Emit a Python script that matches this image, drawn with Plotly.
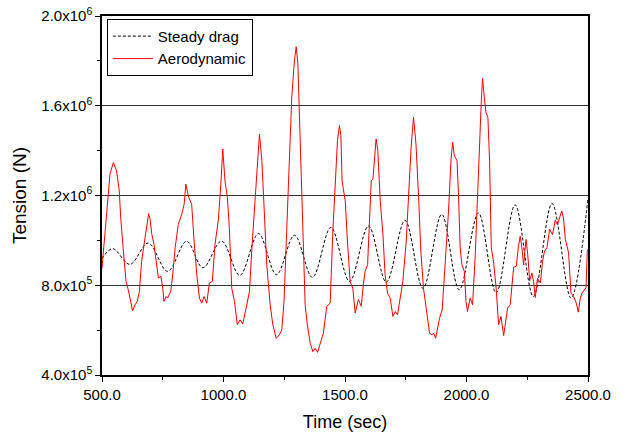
import plotly.graph_objects as go

# Steady drag (dashed) - read extrema
steady_t = [500, 544, 615, 690, 770, 848, 915, 992, 1067, 1144, 1218, 1292, 1366, 1442,
            1519, 1597, 1670, 1747, 1821, 1898, 1970, 2049, 2122, 2200, 2275, 2352, 2430, 2500]
steady_v = [9.2e5, 9.63e5, 8.93e5, 9.88e5, 8.62e5, 9.96e5, 8.78e5, 9.97e5, 8.44e5, 1.030e6,
            8.47e5, 1.023e6, 8.35e5, 1.058e6, 8.17e5, 1.064e6, 8.14e5, 1.089e6, 7.86e5, 1.116e6,
            7.80e5, 1.122e6, 7.66e5, 1.158e6, 7.50e5, 1.164e6, 7.43e5, 1.19e6]

# Aerodynamic (red)
aero_t = [500, 516, 533, 547, 560, 571, 577, 588, 599, 608, 615, 626, 636, 645, 654, 663, 677,
          687, 692, 698, 705, 714, 725, 732, 742, 750, 755, 764, 770, 777, 783, 791, 801, 814,
          828, 838, 845, 855, 865, 869, 879, 890, 901, 910, 920, 931, 942, 954, 965, 979, 989,
          997, 1006, 1016, 1024, 1034, 1045, 1057, 1068, 1079, 1093, 1107, 1116, 1130, 1140,
          1148, 1158, 1167, 1178, 1192, 1203, 1217, 1230, 1240, 1249, 1260, 1271, 1281, 1292,
          1299, 1306, 1315, 1325, 1336, 1345, 1357, 1368, 1377, 1387, 1398, 1411, 1425, 1439,
          1450, 1460, 1469, 1477, 1483, 1488, 1497, 1501, 1510, 1521, 1532, 1542, 1555, 1567,
          1576, 1583, 1593, 1604, 1608, 1615, 1621, 1628, 1635, 1645, 1656, 1665, 1675, 1686,
          1697, 1707, 1716, 1727, 1738, 1752, 1761, 1772, 1782, 1792, 1803, 1812, 1823, 1830,
          1837, 1848, 1858, 1865, 1873, 1881, 1889, 1900, 1908, 1917, 1926, 1936, 1943, 1950,
          1961, 1967, 1974, 1981, 1991, 1998, 2004, 2015, 2025, 2036, 2046, 2054, 2061, 2066,
          2073, 2080, 2088, 2095, 2102, 2111, 2122, 2132, 2142, 2153, 2169, 2180, 2194, 2205,
          2213, 2221, 2228, 2235, 2245, 2252, 2260, 2269, 2276, 2283, 2292, 2304, 2313, 2321,
          2331, 2342, 2354, 2365, 2374, 2382, 2392, 2399, 2407, 2420, 2430, 2441, 2452, 2460,
          2468, 2475, 2484, 2492, 2497, 2500]
aero_v = [8.77e5, 1.086e6, 1.297e6, 1.347e6, 1.31e6, 1.221e6, 1.101e6, 9.52e5, 8.17e5, 7.80e5,
          7.43e5, 6.86e5, 7.13e5, 7.28e5, 7.73e5, 9.07e5, 1.011e6, 1.071e6, 1.119e6, 1.094e6,
          1.027e6, 9.82e5, 8.92e5, 8.32e5, 8.40e5, 7.87e5, 7.28e5, 7.50e5, 7.43e5, 7.58e5,
          7.73e5, 8.47e5, 9.67e5, 1.071e6, 1.116e6, 1.161e6, 1.251e6, 1.198e6, 1.176e6,
          1.161e6, 9.97e5, 8.47e5, 7.43e5, 7.20e5, 7.50e5, 7.20e5, 8.10e5, 8.17e5, 9.82e5,
          1.094e6, 1.251e6, 1.407e6, 1.265e6, 1.191e6, 1.056e6, 7.87e5, 7.28e5, 6.24e5,
          6.46e5, 6.27e5, 6.98e5, 7.73e5, 9.52e5, 1.176e6, 1.385e6, 1.474e6, 1.355e6, 1.131e6,
          8.92e5, 7.13e5, 6.24e5, 5.63e5, 5.79e5, 6.01e5, 7.28e5, 1.041e6, 1.340e6, 1.639e6,
          1.803e6, 1.863e6, 1.788e6, 1.489e6, 1.131e6, 7.13e5, 6.24e5, 5.41e5, 5.04e5, 5.19e5,
          5.01e5, 5.41e5, 5.86e5, 7.06e5, 7.20e5, 1.041e6, 1.265e6, 1.445e6, 1.512e6, 1.467e6,
          1.265e6, 1.191e6, 1.176e6, 9.97e5, 8.17e5, 7.87e5, 6.76e5, 7.36e5, 7.06e5, 8.10e5,
          8.62e5, 8.92e5, 1.131e6, 1.265e6, 1.273e6, 1.355e6, 1.452e6, 1.400e6, 1.176e6,
          1.027e6, 8.47e5, 7.65e5, 7.43e5, 6.61e5, 6.83e5, 6.68e5, 7.43e5, 8.17e5, 9.97e5,
          1.206e6, 1.415e6, 1.549e6, 1.430e6, 1.191e6, 9.52e5, 7.87e5, 7.28e5, 6.83e5, 5.86e5,
          5.79e5, 5.86e5, 5.64e5, 6.08e5, 6.53e5, 6.91e5, 8.32e5, 9.37e5, 1.131e6, 1.355e6,
          1.437e6, 1.377e6, 1.355e6, 1.206e6, 9.67e5, 8.92e5, 8.62e5, 7.28e5, 6.83e5, 7.43e5,
          7.13e5, 9.37e5, 1.176e6, 1.430e6, 1.624e6, 1.721e6, 1.639e6, 1.571e6, 1.549e6,
          1.355e6, 9.67e5, 9.07e5, 7.87e5, 6.24e5, 6.61e5, 5.76e5, 6.98e5, 7.13e5, 8.8e5,
          8.85e5, 9.67e5, 1.019e6, 9.67e5, 8.9e5, 1.004e6, 9.37e5, 8.2e5, 8.55e5, 8.17e5,
          7.45e5, 8.3e5, 8.1e5, 9.07e5, 9.52e5, 9.67e5, 1.05e6, 1.025e6, 1.09e6, 1.07e6,
          1.094e6, 1.131e6, 1.10e6, 1.005e6, 9.45e5, 7.65e5, 7.5e5, 7.2e5, 6.8e5, 7.4e5,
          7.65e5, 7.8e5, 7.9e5, 9.5e5, 9.6e5]

y_tickvals = [4e5, 8e5, 1.2e6, 1.6e6, 2.0e6]
y_ticktext = ["4.0x10<sup>5</sup>", "8.0x10<sup>5</sup>", "1.2x10<sup>6</sup>",
              "1.6x10<sup>6</sup>", "2.0x10<sup>6</sup>"]
x_tickvals = [500, 1000, 1500, 2000, 2500]
x_ticktext = ["500.0", "1000.0", "1500.0", "2000.0", "2500.0"]

fig = go.Figure()
fig.add_trace(go.Scatter(x=steady_t, y=steady_v, mode="lines", name="Steady drag",
                         line=dict(color="black", width=1, dash="3px,2px", shape="spline", smoothing=1.0)))
fig.add_trace(go.Scatter(x=aero_t, y=aero_v, mode="lines", name="Aerodynamic",
                         line=dict(color="#ff0000", width=1)))

font_family = "Liberation Sans, Arial, sans-serif"
fig.update_layout(
    width=627, height=432,
    margin=dict(l=102, r=39, t=16, b=57, autoexpand=False),
    paper_bgcolor="white", plot_bgcolor="white",
    font=dict(family=font_family, color="black"),
    showlegend=True,
    legend=dict(x=0.01, y=0.992, xanchor="left", yanchor="top",
                bgcolor="white", bordercolor="black", borderwidth=1,
                font=dict(size=15, family=font_family), tracegroupgap=0,
                itemwidth=40),
)
fig.update_xaxes(range=[500, 2500], tickvals=x_tickvals, ticktext=x_ticktext,
                 showgrid=False, zeroline=False, automargin=False,
                 showline=True, linecolor="black", linewidth=1.5, mirror=True,
                 ticks="outside", ticklen=5, tickcolor="black", tickwidth=1,
                 minor=dict(ticks="outside", dtick=250, tick0=500, ticklen=3, tickcolor="black"),
                 tickfont=dict(size=15),
                 title=dict(text="Time (sec)", font=dict(size=18), standoff=15))
fig.update_yaxes(range=[4e5, 2e6], tickvals=y_tickvals, ticktext=y_ticktext,
                 showgrid=True, gridcolor="#333333", gridwidth=1, zeroline=False, automargin=False,
                 showline=True, linecolor="black", linewidth=1.5, mirror=True,
                 ticks="outside", ticklen=5, tickcolor="black", tickwidth=1,
                 minor=dict(ticks="outside", dtick=2e5, tick0=4e5, ticklen=3, tickcolor="black", showgrid=False),
                 tickfont=dict(size=15),
                 title=dict(text="Tension (N)", font=dict(size=19), standoff=10))

fig.write_html("out.html")
